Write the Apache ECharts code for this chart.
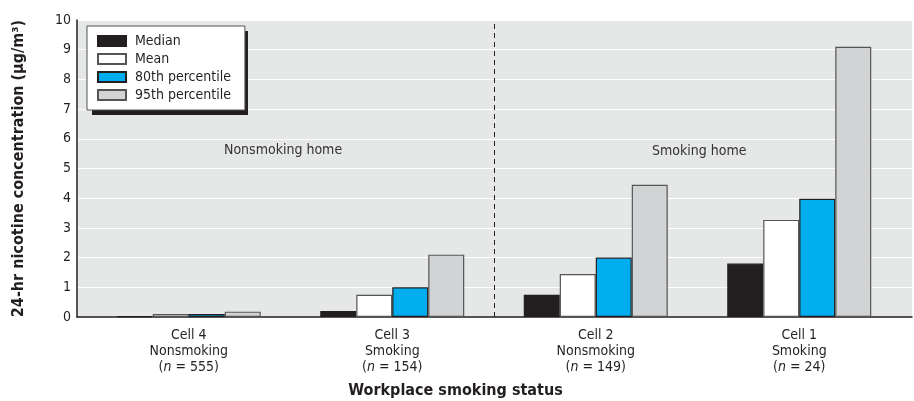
<!DOCTYPE html>
<html>
<head>
<meta charset="utf-8">
<script src="https://cdn.jsdelivr.net/npm/echarts@6/dist/echarts.min.js"></script>
<style>
  html, body { margin: 0; padding: 0; background: #fff; }
  #main { width: 914px; height: 401px; }
</style>
</head>
<body>
<div id="main"></div>
<script>
// data
const cells = ['Cell 4', 'Cell 3', 'Cell 2', 'Cell 1']
const workplace = ['Nonsmoking', 'Smoking', 'Nonsmoking', 'Smoking']
const sampleSizes = ['555', '154', '149', '24']
const median = [0.03, 0.2, 0.75, 1.8]
const mean = [0.1, 0.75, 1.45, 3.27]
const pct80 = [0.1, 1.0, 2.0, 3.98]
const pct95 = [0.18, 2.1, 4.45, 9.1]
const homeDivider = 2 // boundary between Cell 3 and Cell 2
const yMin = 0
const yMax = 10
const yStep = 1

const font = "'DejaVu Sans Condensed', 'Liberation Sans Narrow', 'Liberation Sans', sans-serif"
const ink = '#231f20'

const myChart = echarts.init(document.getElementById('main'))

const bar = (name, data, color, border) => ({
  name: name,
  type: 'bar',
  xAxisIndex: 1,
  yAxisIndex: 1,
  barWidth: 36,
  barGap: '0%',
  itemStyle: { color: color, borderColor: border, borderWidth: 1.2 },
  data: data
})

myChart.setOption({
  animation: false,
  textStyle: { fontFamily: font },
  legend: {
    orient: 'vertical',
    left: 87,
    top: 26,
    z: 6,
    padding: [8, 14, 8, 10],
    icon: 'rect',
    itemWidth: 28,
    itemHeight: 10,
    itemGap: 4,
    backgroundColor: '#fff',
    borderColor: '#555',
    borderWidth: 1,
    textStyle: { fontFamily: font, fontSize: 14, color: ink, padding: [0, 0, 0, 4] },
    data: ['Median', 'Mean', '80th percentile', '95th percentile']
  },
  grid: [
    { left: 77, right: 2, top: 20, bottom: 84, show: true, backgroundColor: '#e6e7e7', borderWidth: 0, outerBoundsMode: 'none', containLabel: false },
    { left: 87, right: 13, top: 20, bottom: 84, outerBoundsMode: 'none', containLabel: false }
  ],
  xAxis: [
    {
      gridIndex: 0,
      type: 'category',
      data: cells,
      axisLine: { lineStyle: { color: ink, width: 1.5 } },
      axisTick: { show: false },
      axisLabel: { show: false },
      name: 'Workplace smoking status',
      nameLocation: 'middle',
      nameGap: 66,
      nameTextStyle: { fontFamily: font, fontSize: 16, fontWeight: 'bold', color: ink, padding: [0, 78, 0, 0] }
    },
    {
      gridIndex: 1,
      type: 'category',
      data: cells,
      axisLine: { show: false },
      axisTick: { show: false },
      axisLabel: {
        margin: 10,
        formatter: function (value, i) {
          return '{a|' + value + '}\n{a|' + workplace[i] + '}\n{a|(}{i|n}{a| = ' + sampleSizes[i] + ')}'
        },
        rich: {
          a: { fontFamily: font, fontSize: 14, color: ink, lineHeight: 16 },
          i: { fontFamily: font, fontSize: 14, color: ink, lineHeight: 16, fontStyle: 'italic' }
        }
      }
    },
    {
      gridIndex: 1,
      type: 'value',
      min: 0,
      max: cells.length,
      show: false
    }
  ],
  yAxis: [
    {
      gridIndex: 0,
      type: 'value',
      min: yMin,
      max: yMax,
      interval: yStep,
      axisLine: { show: true, lineStyle: { color: ink, width: 1.5 } },
      axisTick: { show: false },
      axisLabel: { fontFamily: font, fontSize: 14, color: ink, margin: 6 },
      splitLine: { lineStyle: { color: '#fff', width: 1.2 } },
      name: '24-hr nicotine concentration (\u03bcg/m\u00b3)',
      nameLocation: 'middle',
      nameGap: 50,
      nameTextStyle: { fontFamily: font, fontSize: 16, fontWeight: 'bold', color: ink }
    },
    {
      gridIndex: 1,
      type: 'value',
      min: yMin,
      max: yMax,
      interval: yStep,
      show: false
    }
  ],
  graphic: [
    { type: 'rect', left: 92, top: 31, z: 3, shape: { width: 156, height: 84 }, style: { fill: ink } },
    { type: 'text', left: 284 - 60, top: 143, style: { text: 'Nonsmoking home', width: 120, align: 'center', font: '14px ' + font, fill: '#333' } },
    { type: 'text', left: 702 - 50, top: 144, style: { text: 'Smoking home', width: 100, align: 'center', font: '14px ' + font, fill: '#333' } }
  ],
  series: [
    bar('Median', median, ink, ink),
    bar('Mean', mean, '#ffffff', '#555'),
    bar('80th percentile', pct80, '#00aeef', ink),
    bar('95th percentile', pct95, '#d1d3d4', '#555'),
    {
      type: 'line',
      xAxisIndex: 2,
      yAxisIndex: 1,
      data: [],
      silent: true,
      markLine: {
        symbol: 'none',
        label: { show: false },
        lineStyle: { color: ink, type: [5, 4], width: 1 },
        data: [{ xAxis: homeDivider }]
      }
    }
  ]
})

window.addEventListener('resize', () => {
  myChart.resize()
})
</script>
</body>
</html>
